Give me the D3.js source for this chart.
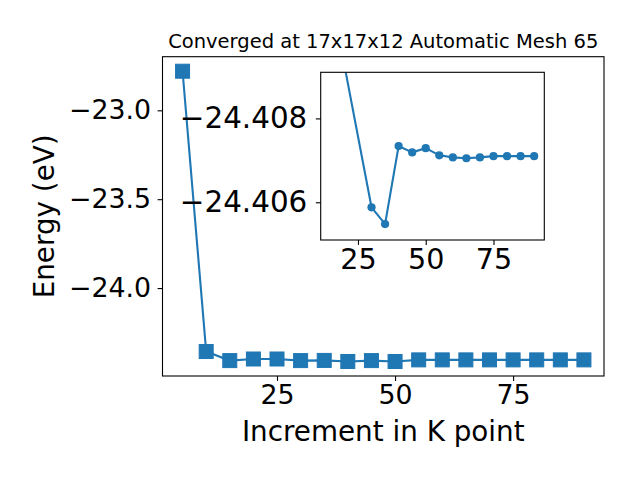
<!DOCTYPE html>
<html>
<head>
<meta charset="utf-8">
<script src="https://cdn.jsdelivr.net/npm/d3@7"></script>
<style>
  body { margin: 0; background: #fff; }
  svg { display: block; }
  text { font-family: "DejaVu Sans", sans-serif; fill: #000; }
</style>
</head>
<body>
<svg id="chart" width="640" height="480"></svg>
<script>
// main curve: energy vs k-point increment
var kPoints = [5, 10, 15, 20, 25, 30, 35, 40, 45, 50, 55, 60, 65, 70, 75, 80, 85, 90];
var energies = [-22.78, -24.357, -24.408, -24.399, -24.399, -24.408, -24.407, -24.413, -24.408,
                -24.413, -24.404, -24.404, -24.404, -24.404, -24.404, -24.404, -24.404, -24.404];

// inset (zoom on the converged tail)
var insetK = [15, 30, 35, 40, 45, 50, 55, 60, 65, 70, 75, 80, 85, 90];
var insetE = [-24.41096, -24.40588, -24.40548, -24.40734, -24.40719, -24.40729, -24.40712,
              -24.40707, -24.40705, -24.40707, -24.40710, -24.40710, -24.40710, -24.40710];
var insetYLim = [-24.4051, -24.4091];

var mainXTicks = [25, 50, 75];
var mainYTicks = [-23.0, -23.5, -24.0];
var insetXTicks = [25, 50, 75];
var insetYTicks = [-24.408, -24.406];

var titleText = "Converged at 17x17x12 Automatic Mesh 65";
var xLabel = "Increment in K point";
var yLabel = "Energy (eV)";

var blue = "#1f77b4";
var svg = d3.select("#chart");

// matplotlib-like 5% margins
function padded(vals) {
  var e = d3.extent(vals), m = (e[1] - e[0]) * 0.05;
  return [e[0] - m, e[1] + m];
}

var box = {left: 162.5, right: 604, top: 56.7, bottom: 376};
var x = d3.scaleLinear().domain(padded(kPoints)).range([box.left, box.right]);
var y = d3.scaleLinear().domain(padded(energies)).range([box.bottom, box.top]);

var g = svg.append("g");

g.append("path")
    .datum(kPoints.map(function(k, i) { return [k, energies[i]]; }))
    .attr("fill", "none")
    .attr("stroke", blue)
    .attr("stroke-width", 2.1)
    .attr("d", d3.line().x(function(d) { return x(d[0]); }).y(function(d) { return y(d[1]); }));

var sq = 14;
g.selectAll("rect.pt")
    .data(kPoints)
  .enter().append("rect")
    .attr("class", "pt")
    .attr("x", function(d) { return x(d) - sq / 2; })
    .attr("y", function(d, i) { return y(energies[i]) - sq / 2; })
    .attr("width", sq)
    .attr("height", sq)
    .attr("fill", blue)
    .attr("stroke", blue)
    .attr("stroke-width", 1);

var xAxis = d3.axisBottom(x).tickValues(mainXTicks).tickSize(4.9).tickPadding(4).tickFormat(d3.format("d"));
var yAxis = d3.axisLeft(y).tickValues(mainYTicks).tickSize(4.9).tickPadding(6.5).tickFormat(d3.format(".1f"));

function styleAxis(sel, fs) {
  sel.select(".domain").remove();
  sel.selectAll(".tick line").attr("stroke", "#000").attr("stroke-width", 1.1);
  sel.selectAll(".tick text").attr("font-size", fs).attr("font-family", "DejaVu Sans").attr("fill", "#000");
}

g.append("g").attr("transform", "translate(0," + box.bottom + ")").call(xAxis).call(styleAxis, 26.8);
g.append("g").attr("transform", "translate(" + box.left + ",0)").call(yAxis).call(styleAxis, 26.8);

g.append("rect")
    .attr("x", box.left).attr("y", box.top)
    .attr("width", box.right - box.left).attr("height", box.bottom - box.top)
    .attr("fill", "none").attr("stroke", "#000").attr("stroke-width", 1.1);

svg.append("text")
    .attr("x", (box.left + box.right) / 2).attr("y", 48)
    .attr("text-anchor", "middle").attr("font-size", 19.5)
    .text(titleText);

svg.append("text")
    .attr("x", (box.left + box.right) / 2).attr("y", 441)
    .attr("text-anchor", "middle").attr("font-size", 27.8)
    .text(xLabel);

svg.append("text")
    .attr("transform", "translate(54," + (box.top + box.bottom) / 2 + ") rotate(-90)")
    .attr("text-anchor", "middle").attr("font-size", 27.8)
    .text(yLabel);

// inset axes
var ib = {left: 320.7, right: 544.3, top: 72.3, bottom: 240};
var ix = d3.scaleLinear().domain(padded(insetK)).range([ib.left, ib.right]);
var iy = d3.scaleLinear().domain(insetYLim).range([ib.bottom, ib.top]);

var ig = svg.append("g");
ig.append("rect")
    .attr("x", ib.left).attr("y", ib.top)
    .attr("width", ib.right - ib.left).attr("height", ib.bottom - ib.top)
    .attr("fill", "#fff");

svg.append("clipPath").attr("id", "insetclip")
  .append("rect")
    .attr("x", ib.left).attr("y", ib.top)
    .attr("width", ib.right - ib.left).attr("height", ib.bottom - ib.top);

var plot = ig.append("g").attr("clip-path", "url(#insetclip)");
plot.append("path")
    .datum(insetK.map(function(k, i) { return [k, insetE[i]]; }))
    .attr("fill", "none")
    .attr("stroke", blue)
    .attr("stroke-width", 2.1)
    .attr("d", d3.line().x(function(d) { return ix(d[0]); }).y(function(d) { return iy(d[1]); }));

plot.selectAll("circle")
    .data(insetK)
  .enter().append("circle")
    .attr("cx", function(d) { return ix(d); })
    .attr("cy", function(d, i) { return iy(insetE[i]); })
    .attr("r", 4.1)
    .attr("fill", blue);

ig.append("g").attr("transform", "translate(0," + ib.bottom + ")")
    .call(d3.axisBottom(ix).tickValues(insetXTicks).tickSize(4.9).tickPadding(4).tickFormat(d3.format("d")))
    .call(styleAxis, 28.6);
ig.append("g").attr("transform", "translate(" + ib.left + ",0)")
    .call(d3.axisLeft(iy).tickValues(insetYTicks).tickSize(4.9).tickPadding(8.5).tickFormat(d3.format(".3f")))
    .call(styleAxis, 29.4);

ig.append("rect")
    .attr("x", ib.left).attr("y", ib.top)
    .attr("width", ib.right - ib.left).attr("height", ib.bottom - ib.top)
    .attr("fill", "none").attr("stroke", "#000").attr("stroke-width", 1.1);
</script>
</body>
</html>
